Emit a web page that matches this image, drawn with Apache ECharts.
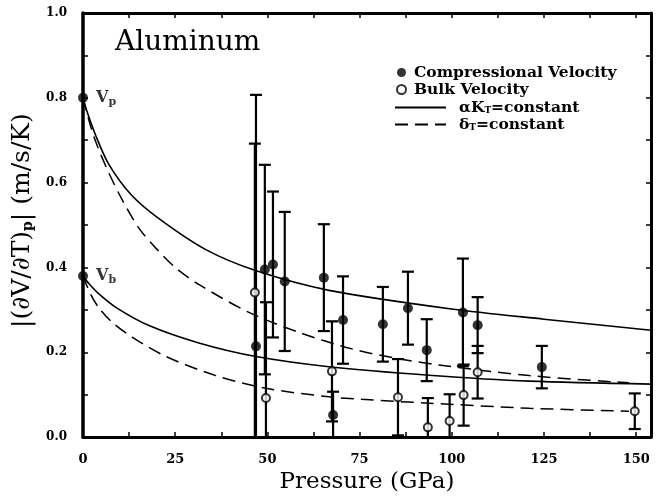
<!DOCTYPE html>
<html><head><meta charset="utf-8">
<script src="https://cdn.jsdelivr.net/npm/echarts@6/dist/echarts.min.js"></script>
<style>html,body{margin:0;padding:0;background:#fff}#c{width:661px;height:499px}</style>
</head><body><div id="c"></div>
<script>
// ---- data ----
const ambientP = [0, 0];
const ambientV = [0.80, 0.38];
const ambientSub = ['p', 'b'];

const compP   = [46.9, 49.3, 51.5, 54.7, 65.3, 67.8, 70.5, 81.3, 88.1, 93.2, 103.0, 107.0, 124.4];
const compV   = [0.214, 0.395, 0.407, 0.367, 0.376, 0.052, 0.276, 0.266, 0.304, 0.205, 0.294, 0.264, 0.165];
const compErr = [0.593, 0.247, 0.172, 0.164, 0.126, 0.055, 0.103, 0.088, 0.086, 0.073, 0.127, 0.066, 0.050];

const bulkP   = [46.6, 49.6, 67.5, 85.4, 93.5, 99.4, 103.2, 107.0, 149.6];
const bulkV   = [0.341, 0.092, 0.155, 0.094, 0.023, 0.038, 0.099, 0.153, 0.061];
const bulkErr = [0.351, 0.226, 0.118, 0.090, 0.069, 0.063, 0.072, 0.062, 0.042];

const vpSolidP = [0, 1, 3.5, 7, 13, 20.6, 33.3, 47, 66.7, 100, 125, 154];
const vpSolidV = [0.80, 0.77, 0.71, 0.643, 0.572, 0.515, 0.442, 0.392, 0.346, 0.302, 0.278, 0.252];
const vpDashP  = [0, 1.5, 3.5, 7, 10.6, 15.2, 19.8, 25, 31.4, 45, 58.5, 72.9, 84.8, 96.5, 121, 148];
const vpDashV  = [0.80, 0.75, 0.695, 0.623, 0.56, 0.492, 0.445, 0.40, 0.36, 0.294, 0.247, 0.208, 0.186, 0.17, 0.145, 0.128];
const vbSolidP = [0, 1.6, 4, 8.9, 17.9, 31.4, 46.9, 66.7, 93.8, 121, 154];
const vbSolidV = [0.38, 0.362, 0.34, 0.306, 0.263, 0.222, 0.19, 0.166, 0.146, 0.132, 0.125];
const vbDashP  = [0, 2, 4.3, 8, 13.3, 22.5, 36, 49.6, 66.7, 75.6, 93.8, 121, 148];
const vbDashV  = [0.38, 0.338, 0.305, 0.27, 0.236, 0.19, 0.145, 0.115, 0.095, 0.089, 0.08, 0.068, 0.061];

const xTickLabels = [0, 25, 50, 75, 100, 125, 150];
const yTickLabels = ['0.0', '0.2', '0.4', '0.6', '0.8', '1.0'];

// ---- chart ----
const zip = (a, b, c) => a.map((v, i) => c ? [v, b[i], c[i]] : [v, b[i]]);
const YMIN = 0, YMAX = 1;

function errItem(params, api) {
  const x = api.value(0), y = api.value(1), e = api.value(2);
  const hi = y + e, lo = y - e;
  const top = api.coord([x, Math.min(hi, YMAX)]);
  const bot = api.coord([x, Math.max(lo, YMIN)]);
  const st = { stroke: '#000', lineWidth: 2.2 };
  const ch = [{ type: 'line', shape: { x1: top[0], y1: top[1], x2: bot[0], y2: bot[1] }, style: st }];
  const w = 6;
  if (hi <= YMAX) ch.push({ type: 'line', shape: { x1: top[0] - w, y1: top[1], x2: top[0] + w, y2: top[1] }, style: st });
  if (lo >= YMIN) ch.push({ type: 'line', shape: { x1: bot[0] - w, y1: bot[1], x2: bot[0] + w, y2: bot[1] }, style: st });
  return { type: 'group', children: ch };
}

const serif = 'DejaVu Serif';
const axisLineStyle = { color: '#000', width: 3 };
const tick = { show: true, inside: true, length: 5, lineStyle: { color: '#000', width: 1.5 } };

const chart = echarts.init(document.getElementById('c'));
chart.setOption({
  animation: false,
  backgroundColor: '#fff',
  title: {
    text: 'Aluminum', left: 110, top: 24,
    textStyle: { fontFamily: serif, fontSize: 28, fontWeight: 'normal', color: '#000' }
  },
  grid: { left: 83, right: 10, top: 13, bottom: 61 },
  legend: [
    {
      orient: 'vertical', left: 391, top: 59, itemWidth: 9, itemHeight: 9, itemGap: 0,
      data: [{ name: 'Compressional Velocity', icon: 'circle' }, { name: 'Bulk Velocity', icon: 'emptyCircle' }],
      textStyle: { fontFamily: serif, fontWeight: 'bold', fontSize: 15.5, color: '#000', lineHeight: 17, padding: [0, 0, 0, 3] }
    },
    {
      orient: 'vertical', left: 389, top: 94, itemWidth: 51, itemHeight: 10, itemGap: 0,
      data: [{ name: 'αKT=constant', itemStyle: { opacity: 0 } }, { name: 'δT=constant', itemStyle: { opacity: 0 } }],
      formatter: n => n === 'αKT=constant' ? '{a|αK}{s|T}{a|=constant}' : '{a|δ}{s|T}{a|=constant}',
      textStyle: {
        fontFamily: serif, fontWeight: 'bold', fontSize: 15.5, color: '#000', lineHeight: 17, padding: [0, 0, 0, 8],
        rich: {
          a: { fontFamily: serif, fontWeight: 'bold', fontSize: 15.5, color: '#000' },
          s: { fontFamily: serif, fontWeight: 'bold', fontSize: 9, color: '#000', padding: [6, 0, 0, 0] }
        }
      }
    }
  ],
  xAxis: [
    {
      type: 'value', min: 0, max: 154, interval: 12.5, position: 'bottom',
      axisLine: { lineStyle: axisLineStyle },
      axisTick: tick,
      axisLabel: {
        margin: 16, fontFamily: serif, fontWeight: 'bold', fontSize: 13, color: '#000',
        formatter: v => xTickLabels.indexOf(v) >= 0 ? String(v) : ''
      },
      splitLine: { show: false },
      name: 'Pressure (GPa)', nameLocation: 'middle', nameGap: 33,
      nameTextStyle: { fontFamily: serif, fontSize: 23, color: '#000' }
    },
    {
      type: 'value', min: 0, max: 154, interval: 12.5, position: 'top',
      axisLine: { onZero: false, lineStyle: axisLineStyle },
      axisTick: tick,
      axisLabel: { show: false }, splitLine: { show: false }
    }
  ],
  yAxis: [
    {
      type: 'value', min: YMIN, max: YMAX, interval: 0.1, position: 'left',
      axisLine: { lineStyle: { color: '#000', width: 3.5 } },
      axisTick: tick,
      axisLabel: {
        margin: 16, fontFamily: serif, fontWeight: 'bold', fontSize: 12, color: '#000',
        formatter: v => { const s = v.toFixed(1); return yTickLabels.indexOf(s) >= 0 ? s : ''; }
      },
      splitLine: { show: false },
      name: '|(∂V/∂T){s|p}| (m/s/K)', nameLocation: 'middle', nameGap: 42,
      nameTextStyle: {
        fontFamily: serif, fontSize: 25, color: '#000', padding: [0, 0, 0, 9],
        rich: { s: { fontFamily: serif, fontSize: 14, fontWeight: 'bold', color: '#000', padding: [12, 0, 0, 0] } }
      }
    },
    {
      type: 'value', min: YMIN, max: YMAX, interval: 0.1, position: 'right',
      axisLine: { onZero: false, lineStyle: axisLineStyle },
      axisTick: tick,
      axisLabel: { show: false }, splitLine: { show: false }
    }
  ],
  series: [
    { name: 'αKT=constant', type: 'line', smooth: 0.3, symbol: 'none', data: zip(vpSolidP, vpSolidV),
      lineStyle: { color: '#000', width: 1.6 }, itemStyle: { color: '#000' } },
    { name: 'αKT=constant', type: 'line', smooth: 0.3, symbol: 'none', data: zip(vbSolidP, vbSolidV),
      lineStyle: { color: '#000', width: 1.6 }, itemStyle: { color: '#000' } },
    { name: 'δT=constant', type: 'line', smooth: 0.3, symbol: 'none', data: zip(vpDashP, vpDashV),
      lineStyle: { color: '#000', width: 1.5, type: [13, 7] }, itemStyle: { color: '#000' } },
    { name: 'δT=constant', type: 'line', smooth: 0.3, symbol: 'none', data: zip(vbDashP, vbDashV),
      lineStyle: { color: '#000', width: 1.5, type: [13, 7] }, itemStyle: { color: '#000' } },
    { name: 'compErr', type: 'custom', renderItem: errItem, data: zip(compP, compV, compErr), z: 3 },
    { name: 'bulkErr', type: 'custom', renderItem: errItem, data: zip(bulkP, bulkV, bulkErr), z: 3 },
    { name: 'Compressional Velocity', type: 'scatter', symbol: 'circle', symbolSize: 10,
      data: zip(compP, compV), itemStyle: { color: '#000' }, z: 5 },
    { name: 'Bulk Velocity', type: 'scatter', symbol: 'emptyCircle', symbolSize: 8,
      data: zip(bulkP, bulkV), itemStyle: { color: '#000', borderColor: '#000', borderWidth: 1.8 }, z: 5 },
    { name: 'ambient', type: 'scatter', symbol: 'circle', symbolSize: 10,
      data: ambientP.map((p, i) => ({ value: [p, ambientV[i]], sub: ambientSub[i] })),
      itemStyle: { color: '#000' }, z: 6,
      label: {
        show: true, position: 'right', distance: 8,
        formatter: p => '{v|V}{s|' + p.data.sub + '}',
        rich: {
          v: { fontFamily: serif, fontWeight: 'bold', fontSize: 16, color: '#000' },
          s: { fontFamily: serif, fontWeight: 'bold', fontSize: 11, color: '#000', padding: [8, 0, 0, 0] }
        }
      }
    }
  ]
});
</script></body></html>
